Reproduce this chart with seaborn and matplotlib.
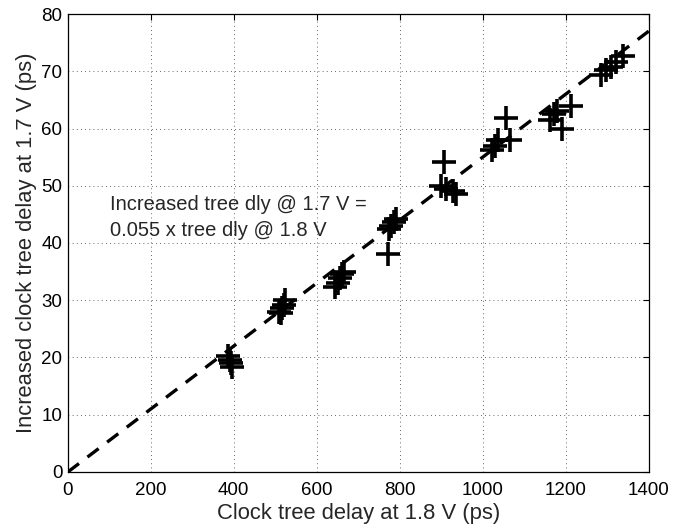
import matplotlib
matplotlib.use("Agg")
import matplotlib.pyplot as plt
import seaborn as sns
import pandas as pd

# data
delay_18 = [385, 390, 393, 396,
            510, 513, 516, 521, 524,
            645, 650, 655, 660, 665,
            772, 775, 780, 786, 792,
            900, 906, 912, 928, 935,
            1022, 1030, 1037, 1055, 1065,
            1161, 1172, 1178, 1192, 1212,
            1284, 1296, 1308, 1320, 1337]
delay_17 = [20.3, 19.5, 19.0, 18.4,
            28.0, 27.8, 28.6, 29.2, 30.0,
            32.3, 33.0, 33.8, 34.5, 35.0,
            38.0, 42.5, 43.0, 43.6, 44.2,
            50.0, 54.1, 49.4, 49.0, 48.6,
            56.2, 57.0, 58.0, 61.8, 58.0,
            61.4, 62.5, 63.0, 60.0, 64.0,
            69.3, 70.2, 70.8, 71.6, 72.6]
fit_x = [0, 1400]
fit_y = [0, 77]
x_ticks = [0, 200, 400, 600, 800, 1000, 1200, 1400]
y_ticks = [0, 10, 20, 30, 40, 50, 60, 70, 80]
annot_lines = ["Increased tree dly @ 1.7 V =", "0.055 x tree dly @ 1.8 V"]

sns.set_style("white")
plt.rcParams['font.family'] = ['Liberation Sans', 'DejaVu Sans']

fig = plt.figure(figsize=(6.85, 5.29), dpi=100)
ax = fig.add_axes([0.099, 0.1078, 0.848, 0.8657])

df = pd.DataFrame({"x": delay_18, "y": delay_17})
sns.scatterplot(data=df, x="x", y="y", marker="+", s=320, color="black",
                linewidth=2.6, ax=ax, zorder=3)
fit = pd.DataFrame({"x": fit_x, "y": fit_y})
sns.lineplot(data=fit, x="x", y="y", color="black", linewidth=2.4,
             dashes=False, ax=ax, zorder=4)
ax.lines[-1].set_dashes([4.2, 3.2])

ax.set_xlim(0, 1400)
ax.set_ylim(0, 80)
ax.set_xticks(x_ticks)
ax.set_yticks(y_ticks)
ax.tick_params(direction="in", top=True, right=True, length=4, width=0.8,
               labelsize=13.5, colors="black", pad=4)
ax.tick_params(axis="x", pad=7)
ax.grid(True, linestyle=(0, (1, 4)), color="black", linewidth=0.6, alpha=0.8)
for s in ax.spines.values():
    s.set_visible(True)
    s.set_color("black")
    s.set_linewidth(0.9)

ax.set_xlabel("Clock tree delay at 1.8 V (ps)", fontsize=15.8, labelpad=3)
ax.set_ylabel("Increased clock tree delay at 1.7 V (ps)", fontsize=15.8, labelpad=3)

ax.text(101, 46.7, annot_lines[0], fontsize=14.5, va="center", ha="left")
ax.text(101, 42.1, annot_lines[1], fontsize=14.5, va="center", ha="left")

fig.savefig("out.png", dpi=100)
